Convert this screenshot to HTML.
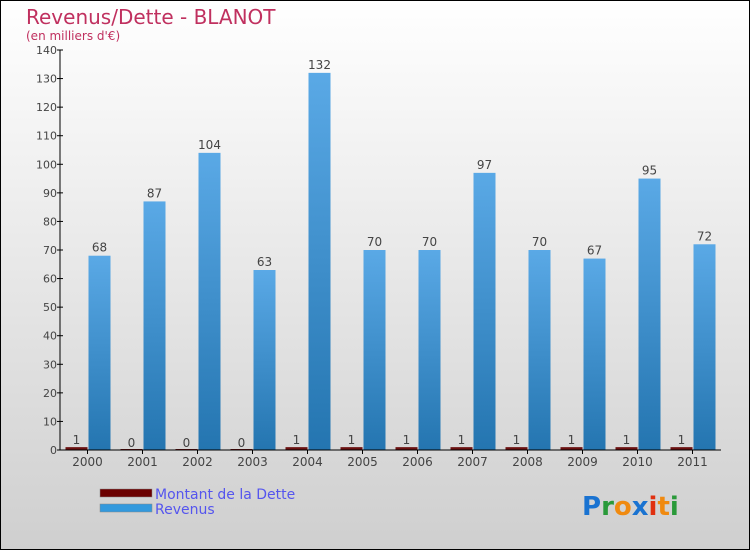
<!DOCTYPE html>
<html><head><meta charset="utf-8"><style>
body{margin:0}
svg{display:block;font-family:"DejaVu Sans","Liberation Sans",sans-serif}
</style></head><body>
<svg width="750" height="550" viewBox="0 0 750 550">
<defs>
<linearGradient id="bg" x1="0" y1="0" x2="0" y2="1"><stop offset="0" stop-color="#ffffff"/><stop offset="1" stop-color="#cfcfcf"/></linearGradient>
<linearGradient id="rev" x1="0" y1="0" x2="0" y2="1"><stop offset="0" stop-color="#5aa9e6"/><stop offset="1" stop-color="#2475b0"/></linearGradient>
</defs>
<rect x="0.5" y="0.5" width="749" height="549" fill="url(#bg)" stroke="#000"/>
<text x="26" y="24" font-size="20" fill="#c0305f">Revenus/Dette - BLANOT</text>
<text x="26" y="40" font-size="12" fill="#c0305f">(en milliers d'€)</text>
<g id="yaxis"></g>
<g id="bars"></g>
<g id="xaxis"></g>
<g>
<rect x="100" y="489" width="52" height="8" fill="#6b0000" stroke="#888" stroke-width="0.5"/>
<text x="155" y="499" font-size="14" fill="#5555ee">Montant de la Dette</text>
<rect x="100" y="504" width="52" height="8" fill="#3399dd" stroke="#888" stroke-width="0.5"/>
<text x="155" y="514" font-size="14" fill="#5555ee">Revenus</text>
</g>
<g font-size="26" font-weight="bold" font-family="'DejaVu Sans',sans-serif">
<text x="582" y="515"><tspan fill="#1a73d1">P</tspan><tspan fill="#2a9a3a">r</tspan><tspan fill="#f08a10">o</tspan><tspan fill="#1a73d1">x</tspan><tspan fill="#e03010">i</tspan><tspan fill="#f08a10">t</tspan><tspan fill="#2a9a3a">i</tspan></text>
</g>
</svg>
<script>
const years=["2000","2001","2002","2003","2004","2005","2006","2007","2008","2009","2010","2011"];
const revenus=[68,87,104,63,132,70,70,97,70,67,95,72];
const dette=[1,0,0,0,1,1,1,1,1,1,1,1];
const yTicks=[0,10,20,30,40,50,60,70,80,90,100,110,120,130,140];
const NS="http://www.w3.org/2000/svg";
const x0=60,x1=720,yb=450,yt=50,ymax=140;
const y=v=>yb-(v/ymax)*(yb-yt);
const step=(x1-x0)/years.length;
const cx=i=>x0+step*(i+0.5);
function mk(tag,attrs,parent){const e=document.createElementNS(NS,tag);for(const k in attrs)e.setAttribute(k,attrs[k]);parent.appendChild(e);return e;}
const ya=document.getElementById('yaxis'),bars=document.getElementById('bars'),xa=document.getElementById('xaxis');
let l=mk('line',{x1:x0,y1:yt,x2:x0,y2:yb,stroke:'#000'},ya);


yTicks.forEach(v=>{
 const t=mk('line',{x1:x0-3,x2:x0+3,y1:y(v),y2:y(v),stroke:'#000'},ya);
 
 
 const tx=mk('text',{x:x0-3,y:y(v)+4,'font-size':11,fill:'#444','text-anchor':'end'},ya);
 tx.textContent=v;
 
 
});
years.forEach((yr,i)=>{
 const c=cx(i);
 const d=mk('rect',{x:c-22,y:y(dette[i])-(dette[i]?0:1),width:22,height:Math.max(1,yb-y(dette[i])),fill:'#6b1010'},bars);
 
 
 const dl=mk('text',{x:c-11,y:y(dette[i])-3,'font-size':12,fill:'#444','text-anchor':'middle'},bars);
 dl.textContent=dette[i];
 
 
 const r=mk('rect',{x:c+1,y:y(revenus[i]),width:22,height:yb-y(revenus[i]),fill:'url(#rev)'},bars);
 
 
 const rl=mk('text',{x:c+12,y:y(revenus[i])-4,'font-size':12,fill:'#444','text-anchor':'middle'},bars);
 rl.textContent=revenus[i];
 
 
 const t=mk('line',{x1:c,x2:c,y1:yb,y2:yb+4,stroke:'#000'},xa);
 
 
 const tx=mk('text',{x:c,y:yb+16,'font-size':12,fill:'#444','text-anchor':'middle'},xa);
 tx.textContent=yr;
 
 
});
const xl=mk('line',{x1:x0,y1:yb,x2:x1+1,y2:yb,stroke:'#000'},xa);


</script>
</body></html>
